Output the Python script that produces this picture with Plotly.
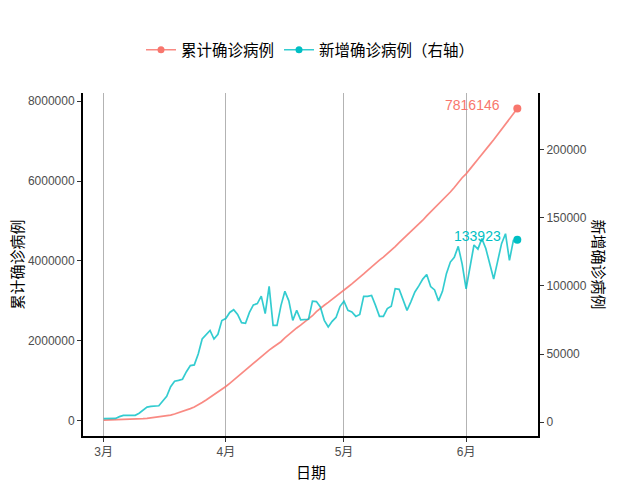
import pandas as pd
import plotly.graph_objects as go

dates = pd.date_range("2020-03-01", "2020-06-14", freq="D")

# 累计确诊病例 (left axis)
total_cases = [
    8401, 10132, 12536, 14698, 17321, 21091, 25034, 28962, 32686, 37696,
    44920, 52000, 64202, 75080, 86406, 100497, 115986, 133670, 161335, 190908,
    223091, 255455, 296635, 336298, 385807, 447631, 511213, 578493, 637776, 699918,
    774942,
    849974, 930433, 1013115, 1114530, 1189185, 1262096, 1343025, 1427947, 1512101, 1608414,
    1688145, 1763197, 1833723, 1892495, 1972309, 2068640, 2156041, 2233579, 2317177, 2388022,
    2464873, 2539781, 2624101, 2726882, 2812309, 2887137, 2957423, 3032051, 3109517, 3172480,
    3259392, 3342955, 3422338, 3498655, 3578287, 3670934, 3761303, 3853648, 3939593, 4017249,
    4093051, 4177289, 4262554, 4357698, 4457878, 4549597, 4629136, 4717449, 4812998, 4911969,
    5017918, 5126310, 5225852, 5323091, 5410536, 5505090, 5607252, 5724403, 5839730, 5974470,
    6082385,
    6181282, 6293658, 6424047, 6548383, 6679457, 6806575, 6912659, 7033889, 7168854, 7304016,
    7433234, 7549582, 7682281, 7816146,
]

# 新增确诊病例 (right axis)
new_cases = [
    2500, 2500, 2500, 2700, 4000, 4900, 4900, 4900, 5000, 6500,
    9000, 11000, 11500, 11500, 12000, 15500, 19000, 26000, 30000, 30600,
    31500, 37000, 41500, 42000, 50000, 61000, 64500, 67300, 61000, 64500,
    74500,
    76000, 80500, 82500, 79000, 73000, 72500, 80500, 86000, 87000, 92500,
    79600, 99600, 71000, 71000, 85500, 96000, 89000, 74700, 82000, 75000,
    75200, 75500, 88800, 88500, 84500, 74700, 69800, 74000, 77000, 85000,
    88800, 82000, 80800, 77600, 79000, 92300, 92300, 93000, 85700, 77600,
    77600, 83300, 85000, 98000, 97500, 89000, 82000, 88500, 95500, 100000,
    105000, 108400, 99500, 97000, 89000, 96000, 109000, 117500, 121000, 129000,
    116000,
    97900, 112600, 130000, 127000, 134700, 127500, 116500, 105000, 118000, 131000,
    138300, 118700, 133400, 133923,
]

month_ticks = ["2020-03-01", "2020-04-01", "2020-05-01", "2020-06-01"]
month_labels = ["3月", "4月", "5月", "6月"]

RED = "#F8766D"
CYAN = "#00BFC4"
RED_LINE = "rgba(248,118,109,0.85)"
CYAN_LINE = "rgba(0,191,196,0.8)"
FONT = "Liberation Sans, Arial, Noto Sans CJK SC, sans-serif"

fig = go.Figure()

# main lines
fig.add_trace(go.Scatter(x=dates, y=total_cases, mode="lines",
                         line=dict(color=RED_LINE, width=1.7), showlegend=False))
fig.add_trace(go.Scatter(x=dates, y=new_cases, mode="lines", yaxis="y2",
                         line=dict(color=CYAN_LINE, width=1.7), showlegend=False))

# end points
fig.add_trace(go.Scatter(x=[dates[-1]], y=[total_cases[-1]], mode="markers",
                         marker=dict(color=RED, size=8), showlegend=False))
fig.add_trace(go.Scatter(x=[dates[-1]], y=[new_cases[-1]], mode="markers", yaxis="y2",
                         marker=dict(color=CYAN, size=8), showlegend=False))

# legend entries only
fig.add_trace(go.Scatter(x=[None], y=[None], mode="lines+markers", name="累计确诊病例",
                         line=dict(color=RED_LINE, width=1.6), marker=dict(color=RED, size=7)))
fig.add_trace(go.Scatter(x=[None], y=[None], mode="lines+markers", name="新增确诊病例（右轴）",
                         yaxis="y2",
                         line=dict(color=CYAN_LINE, width=1.6), marker=dict(color=CYAN, size=7)))

# end labels
fig.add_annotation(x=dates[-1], y=total_cases[-1], text=str(total_cases[-1]),
                   xref="x", yref="y", xanchor="right", yanchor="middle",
                   xshift=-15, yshift=4, showarrow=False,
                   font=dict(size=14, color=RED, family=FONT))
fig.add_annotation(x=dates[-1], y=new_cases[-1], text=str(new_cases[-1]),
                   xref="x", yref="y2", xanchor="right", yanchor="middle",
                   xshift=-14, yshift=4, showarrow=False,
                   font=dict(size=14, color=CYAN, family=FONT))

# axis titles
title_font = dict(size=15, color="black", family=FONT)
fig.add_annotation(x=0, y=0.5, xref="paper", yref="paper", text="累计确诊病例",
                   textangle=-90, xanchor="center", yanchor="middle",
                   xshift=-66, showarrow=False, font=title_font)
fig.add_annotation(x=1, y=0.5, xref="paper", yref="paper", text="新增确诊病例",
                   textangle=90, xanchor="center", yanchor="middle",
                   xshift=60, showarrow=False, font=title_font)
fig.add_annotation(x=0.5, y=0, xref="paper", yref="paper", text="日期",
                   xanchor="center", yanchor="middle",
                   yshift=-36, showarrow=False, font=title_font)

tick_font = dict(size=12, color="#4d4d4d", family=FONT)
axis_style = dict(showline=True, linecolor="black", linewidth=2, zeroline=False,
                  ticks="outside", ticklen=4, tickcolor="#333333",
                  tickfont=tick_font, automargin=False)

fig.update_layout(
    width=640, height=480,
    # page body has an 8px offset, so the margins are shifted to compensate
    margin=dict(l=75, r=110, t=85, b=52, autoexpand=False),
    plot_bgcolor="white", paper_bgcolor="white",
    font=dict(family=FONT),
    legend=dict(orientation="h", x=0.5, xanchor="center", y=1.125, yanchor="middle",
                font=dict(size=15.5, color="black", family=FONT), itemwidth=30),
    xaxis=dict(
        range=["2020-02-24 18:00", "2020-06-19 06:00"],
        tickvals=month_ticks, ticktext=month_labels,
        showgrid=True, gridcolor="#b3b3b3", gridwidth=1,
        **axis_style,
    ),
    yaxis=dict(
        range=[-390807, 8206953],
        tickvals=[0, 2000000, 4000000, 6000000, 8000000],
        ticktext=["0", "2000000", "4000000", "6000000", "8000000"],
        showgrid=False, **axis_style,
    ),
    yaxis2=dict(
        overlaying="y", side="right",
        range=[-10200, 241600],
        tickvals=[0, 50000, 100000, 150000, 200000],
        ticktext=["0", "50000", "100000", "150000", "200000"],
        showgrid=False, **axis_style,
    ),
)

fig.write_html("out.html")
